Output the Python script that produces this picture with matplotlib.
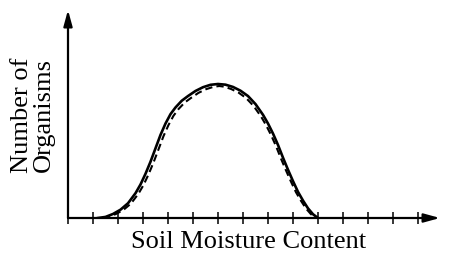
import matplotlib
matplotlib.use("Agg")
import matplotlib.pyplot as plt

# Soil moisture (tick units) vs number of organisms (peak ~10)
solid_x = [1.2, 1.5, 1.8, 2.1, 2.4, 2.7, 2.9, 3.1, 3.3, 3.5, 3.7, 3.9, 4.1, 4.3, 4.55,
           4.8, 5.1, 5.4, 5.7, 6.0, 6.3, 6.6, 6.9, 7.2, 7.5, 7.8, 8.0, 8.2, 8.4, 8.6,
           8.8, 9.0, 9.2, 9.4, 9.6, 9.8, 10.0]
solid_y = [0.0, 0.08, 0.3, 0.62, 1.1, 1.85, 2.5, 3.3, 4.2, 5.2, 6.2, 7.05, 7.75, 8.25, 8.75,
           9.1, 9.48, 9.76, 9.94, 10.0, 9.95, 9.78, 9.5, 9.1, 8.5, 7.7, 7.05, 6.3, 5.45, 4.5,
           3.6, 2.75, 1.95, 1.3, 0.72, 0.28, 0.0]
dash_x = [1.4, 1.62, 1.92, 2.22, 2.52, 2.82, 3.02, 3.22, 3.42, 3.62, 3.82, 4.02, 4.22, 4.42,
          4.67, 4.92, 5.22, 5.52, 5.82, 6.05, 6.25, 6.52, 6.82, 7.12, 7.42, 7.72, 7.92, 8.12,
          8.32, 8.52, 8.72, 8.92, 9.12, 9.32, 9.52, 9.72, 9.92]
dash_y = [0.0, 0.08, 0.3, 0.61, 1.08, 1.82, 2.46, 3.25, 4.14, 5.12, 6.11, 6.94, 7.63, 8.13,
          8.62, 8.96, 9.34, 9.61, 9.79, 9.85, 9.8, 9.63, 9.36, 8.96, 8.37, 7.58, 6.94, 6.2,
          5.37, 4.43, 3.55, 2.71, 1.92, 1.28, 0.71, 0.28, 0.0]
tick_positions = list(range(0, 15))
x_label = "Soil Moisture Content"
y_label = "Number of\nOrganisms"

W, H = 451, 257
X0, X1, Y0, Y1 = 68, 440, 218, 10
fig = plt.figure(figsize=(W / 100, H / 100), dpi=100)
ax = fig.add_axes([X0 / W, (H - Y0) / H, (X1 - X0) / W, (Y0 - Y1) / H])
ax.set_xlim(0, (X1 - X0) / 25)
ax.set_ylim(0, (Y0 - Y1) / 13.4)

ax.plot(solid_x, solid_y, color="black", lw=1.9, solid_joinstyle="round")
ax.plot(dash_x, dash_y, color="black", lw=1.5, dashes=(3.5, 2.0))

for s in ["top", "right", "left", "bottom"]:
    ax.spines[s].set_visible(False)

arrow = dict(arrowstyle="-|>,head_length=0.95,head_width=0.26", lw=1.6, color="black",
             shrinkA=0, shrinkB=0)
ax.annotate("", xy=(1, 0), xycoords="axes fraction", xytext=(0, 0),
            textcoords="axes fraction", arrowprops=arrow)
ax.annotate("", xy=(0, 1), xycoords="axes fraction", xytext=(0, 0),
            textcoords="axes fraction", arrowprops=arrow)

ax.set_xticks(tick_positions)
ax.set_xticklabels([])
ax.set_yticks([])
ax.tick_params(axis="x", direction="inout", length=9, width=1.1, color="black")

font = "Liberation Serif"
fig.text(249 / W, 1 - 242 / H, x_label, ha="center", va="center", fontsize=19, family=font)
fig.text(33 / W, 1 - 115 / H, y_label, ha="center", va="center", rotation=90, fontsize=19,
         family=font, linespacing=0.95)

fig.savefig("out.png", dpi=100)
